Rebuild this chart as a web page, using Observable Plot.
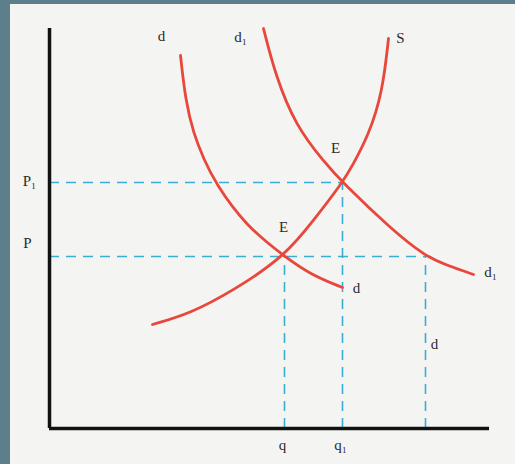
<!DOCTYPE html>
<html>
<head>
<meta charset="utf-8">
<script src="https://cdn.jsdelivr.net/npm/d3@7"></script>
<script src="https://cdn.jsdelivr.net/npm/@observablehq/plot@0.6"></script>
<style>
  html, body { margin: 0; padding: 0; background: #f4f4f2; }
</style>
</head>
<body>
<div id="chart"></div>
<script>
// Demand curve d (quantity, price)
const demandX = [13.1, 13.6, 14.4, 15.4, 16.6, 19.6, 23.5, 26.1, 29.3];
const demandY = [37.3, 32.8, 29.5, 27.0, 24.5, 20.3, 17.2, 15.4, 14.1];
// Shifted demand curve d1
const demand1X = [21.4, 22.6, 24.6, 27.5, 29.3, 34.1, 37.6, 39.8, 42.4];
const demand1Y = [40.0, 35.3, 30.3, 26.6, 24.6, 20.0, 17.2, 16.3, 15.4];
// Supply curve S
const supplyX = [10.3, 14.1, 18.4, 23.5, 26.4, 29.3, 30.3, 31.9, 33.3, 33.9];
const supplyY = [10.4, 11.5, 13.8, 17.2, 20.8, 24.6, 26.3, 29.3, 33.6, 39.0];

// Equilibrium levels
const priceLevels = [17.2, 24.6];          // P, P1
const quantityLevels = [23.5, 29.3, 37.6]; // q, q1, quantity on d1 at P
const guideTopY = [17.2, 24.6, 17.2];

// Text labels
const labelText = ["d", "d\u2081", "S", "E", "E", "d", "d\u2081", "d", "P\u2081", "P", "q", "q\u2081"];
const labelX    = [11.2, 19.1, 35.1, 28.6, 23.4, 30.7, 44.1, 38.5, -2.0, -2.2, 23.3, 29.1];
const labelY    = [39.2, 39.1, 39.0, 28.0, 20.1, 14.0, 15.6, 8.4, 24.7, 18.5, -1.7, -1.7];

const toPts = (xs, ys) => xs.map((x, i) => ({x, y: ys[i]}));
const demand = toPts(demandX, demandY);
const demand1 = toPts(demand1X, demand1Y);
const supply = toPts(supplyX, supplyY);
const labels = labelText.map((t, i) => ({t, x: labelX[i], y: labelY[i]}));

const hGuides = [
  {y: priceLevels[0], x1: 0, x2: quantityLevels[2]},
  {y: priceLevels[1], x1: 0, x2: quantityLevels[1]}
];
const vGuides = quantityLevels.map((x, i) => ({x, y1: 0, y2: guideTopY[i]}));

const red = "#e8473b";
const blue = "#3aaed0";
const font = "Liberation Serif, Times New Roman, serif";

const chart = Plot.plot({
  width: 515,
  height: 464,
  marginLeft: 49,
  marginRight: 26,
  marginTop: 28,
  marginBottom: 36,
  x: {domain: [0, 44], axis: null},
  y: {domain: [0, 40], axis: null},
  style: "background:#f4f4f2;box-shadow: inset 10px 4px 0 #5d7f8c;overflow:visible;",
  marks: [
    Plot.ruleY(hGuides, {y: "y", x1: "x1", x2: "x2", stroke: blue, strokeWidth: 1.6, strokeDasharray: "10,7"}),
    Plot.ruleX(vGuides, {x: "x", y1: "y1", y2: "y2", stroke: blue, strokeWidth: 1.6, strokeDasharray: "10,7"}),
    Plot.line(demand, {x: "x", y: "y", curve: "basis", stroke: red, strokeWidth: 2.8}),
    Plot.line(demand1, {x: "x", y: "y", curve: "basis", stroke: red, strokeWidth: 2.8}),
    Plot.line(supply, {x: "x", y: "y", curve: "basis", stroke: red, strokeWidth: 2.8}),
    Plot.ruleX([0], {stroke: "#111", strokeWidth: 3.5}),
    Plot.ruleY([0], {stroke: "#111", strokeWidth: 3.5}),
    Plot.text(labels, {x: "x", y: "y", text: "t", fontFamily: font, fontSize: 15, fill: "#2b2b2b"})
  ]
});
document.getElementById("chart").appendChild(chart);
</script>
</body>
</html>
